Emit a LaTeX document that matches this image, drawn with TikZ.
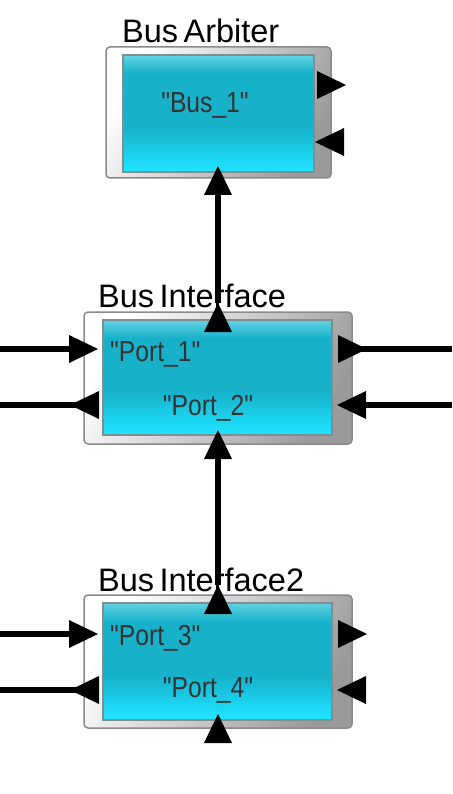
\documentclass[tikz,border=0pt]{standalone}
\usepackage{fontspec}
\setmainfont{Liberation Sans}
\newfontfamily\portfont[FakeStretch=0.85]{Liberation Sans}
\usepackage{xcolor}
\usepackage{tikz}
\usetikzlibrary{shapes.geometric,positioning}
\definecolor{frameline}{HTML}{8A8A8A}
\definecolor{framegray}{HTML}{9A9A9A}
\definecolor{cyantop}{HTML}{62D2E2}
\definecolor{cyanmid}{HTML}{17B1CA}
\definecolor{cyanlow}{HTML}{1CD6F2}
\definecolor{cyanbot}{HTML}{22E4FF}
\definecolor{innerline}{HTML}{7E8E92}
\definecolor{porttxt}{HTML}{333333}
\pgfdeclareverticalshading{panelshade}{100bp}{color(0bp)=(cyanbot); color(25bp)=(cyanbot);
  color(31bp)=(cyanlow); color(44bp)=(cyanmid); color(67bp)=(cyanmid);
  color(75bp)=(cyantop); color(100bp)=(cyantop)}

\begin{document}
\begin{tikzpicture}[x=1pt,y=-1pt,
  frame/.style={draw=frameline,line width=1.5pt,rounded corners=4pt,
    left color=white,right color=framegray,shading angle=60,inner sep=0,outer sep=0},
  panel/.style={draw=innerline,line width=2pt,shading=panelshade,inner sep=0,outer sep=0},
  boxlabel/.style={font=\fontsize{32.5}{32.5}\selectfont,anchor=base west,inner sep=0},
  porttext/.style={font=\portfont\fontsize{29}{29}\selectfont,text=porttxt,inner sep=0},
  port/.style={isosceles triangle,isosceles triangle stretches,fill=black,
    inner sep=0,outer sep=0,minimum width=28pt,minimum height=29pt,anchor=apex},
  wire/.style={line width=5.5pt}]
  \useasboundingbox (0,0) rectangle (452,794);

  % BusArbiter
  \node[frame,minimum width=225pt,minimum height=131pt] (busarb) at (218.5,112.5) {};
  \node[panel,minimum width=191pt,minimum height=117pt] (busarbin) at (218.5,113.5) {};
  \node[boxlabel] (busarblbl) at ([xshift=16pt,yshift=4pt]busarb.north west) {Bus\,Arbiter};
  \node[porttext] (bus1) at (205,105) {"Bus\_1"};

  % BusInterface
  \node[frame,minimum width=268pt,minimum height=132pt] (busif) at (218,378) {};
  \node[panel,minimum width=229pt,minimum height=115pt] (busifin) at (217.5,377.5) {};
  \node[boxlabel] (busiflbl) at ([xshift=14pt,yshift=5pt]busif.north west) {Bus\,Interface};
  \node[porttext,anchor=base west] (port1) at (110,361) {"Port\_1"};
  \node[porttext,anchor=base] (port2) at (208,415) {"Port\_2"};

  % BusInterface2
  \node[frame,minimum width=268pt,minimum height=133pt] (busiftwo) at (218,661.5) {};
  \node[panel,minimum width=229pt,minimum height=117pt] (busiftwoin) at (217.5,661.5) {};
  \node[boxlabel] (busiftwolbl) at ([xshift=14pt,yshift=4pt]busiftwo.north west) {Bus\,Interface2};
  \node[porttext,anchor=base west] (port3) at (110,645) {"Port\_3"};
  \node[porttext,anchor=base] (port4) at (208,697) {"Port\_4"};

  % ports
  \node[port] (arbout) at (346,85) {};
  \node[port,rotate=180] (arbin) at (315,142) {};
  \node[port,rotate=90] (arbbus) at (218,166) {};

  \node[port] (p1in) at (98,349) {};
  \node[port,rotate=180] (p2out) at (70,405) {};
  \node[port] (p1out) at (367,349) {};
  \node[port,rotate=180] (p2in) at (337,405) {};
  \node[port,rotate=90] (iftop) at (218,303) {};
  \node[port,rotate=90] (ifbot) at (218,430) {};

  \node[port] (p3in) at (98,634) {};
  \node[port,rotate=180] (p4out) at (70,690) {};
  \node[port] (p3out) at (367,634) {};
  \node[port,rotate=180] (p4in) at (337,690) {};
  \node[port,rotate=90] (iftwotop) at (218,585) {};
  \node[port,rotate=90] (iftwobot) at (218,714) {};

  % free wire ends
  \coordinate (w1) at (0,349);
  \coordinate (w2) at (0,405);
  \coordinate (w3) at (452,349);
  \coordinate (w4) at (452,405);
  \coordinate (w5) at (0,634);
  \coordinate (w6) at (0,690);

  % wires
  \draw[wire] (w1) -- (p1in.lower side);
  \draw[wire] (p2out.lower side) -- (w2);
  \draw[wire] (p1out.lower side) -- (w3);
  \draw[wire] (w4) -- (p2in.lower side);
  \draw[wire] (w5) -- (p3in.lower side);
  \draw[wire] (p4out.lower side) -- (w6);
  \draw[wire] (iftop.apex) -- (arbbus.lower side);
  \draw[wire] (iftwotop.apex) -- (ifbot.lower side);
\end{tikzpicture}
\end{document}
